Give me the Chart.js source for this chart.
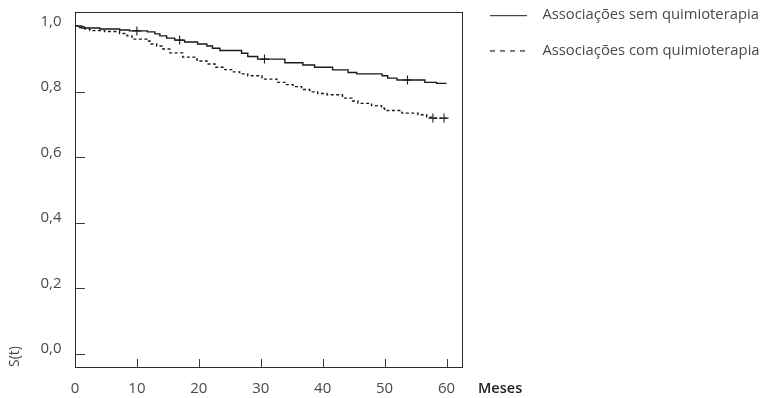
<!DOCTYPE html>
<html>
<head>
<meta charset="utf-8">
<script src="https://cdn.jsdelivr.net/npm/chart.js@4/dist/chart.umd.min.js"></script>
<style>
  html, body { margin: 0; padding: 0; background: #fff; }
  #grafico { display: block; }
</style>
</head>
<body>
<canvas id="grafico" width="764" height="398"></canvas>
<script>
// Estimativas de Kaplan-Meier: tempo (meses) em que a curva cai e S(t) após a queda
const semQtTempos = [0, 1.1, 4.0, 7.2, 8.8, 11.7, 12.9, 13.7, 14.8, 16.1, 17.7, 19.8, 21.3, 22.2, 23.4, 26.9, 27.9, 29.5, 33.9, 36.8, 38.7, 41.6, 44.1, 45.5, 49.6, 50.5, 52.0, 56.5, 58.4, 60];
const semQtSobrevida = [1.000, 0.994, 0.991, 0.988, 0.985, 0.982, 0.976, 0.970, 0.963, 0.957, 0.951, 0.945, 0.939, 0.932, 0.925, 0.917, 0.907, 0.899, 0.888, 0.881, 0.874, 0.866, 0.858, 0.854, 0.848, 0.841, 0.835, 0.828, 0.825, 0.825];
const semQtCensuras = [10.0, 16.9, 30.6, 53.7];

const comQtTempos = [0, 0.4, 1.6, 2.4, 4.8, 7.2, 8.4, 9.2, 11.6, 12.1, 13.2, 14.2, 15.3, 17.4, 19.7, 21.3, 22.6, 24.2, 25.3, 26.6, 27.9, 30.2, 32.6, 33.9, 35.2, 36.6, 37.9, 39.2, 40.7, 43.2, 44.7, 45.7, 47.9, 49.5, 50.0, 52.8, 55.4, 56.8, 57.8, 60];
const comQtSobrevida = [1.000, 0.995, 0.991, 0.986, 0.983, 0.977, 0.970, 0.960, 0.954, 0.945, 0.939, 0.930, 0.918, 0.905, 0.893, 0.884, 0.874, 0.867, 0.860, 0.854, 0.848, 0.838, 0.828, 0.821, 0.815, 0.806, 0.799, 0.794, 0.790, 0.780, 0.771, 0.764, 0.757, 0.749, 0.742, 0.734, 0.729, 0.722, 0.719, 0.719];
const comQtCensuras = [57.8, 59.6];

const rotulosGrupos = ['Associações sem quimioterapia', 'Associações com quimioterapia'];
const ticksMeses = [0, 10, 20, 30, 40, 50, 60];
const ticksSobrevida = [0, 0.2, 0.4, 0.6, 0.8, 1.0];

const FONTE = '"Open Sans", "DejaVu Sans", sans-serif';
const COR_LINHA = '#1a1a1a';
const COR_TEXTO = '#4a4a4a';

// S(t) da curva em degraus no instante t
function sobrevidaEm(tempos, valores, t) {
  let s = valores[0];
  for (let i = 0; i < tempos.length; i++) {
    if (tempos[i] <= t) s = valores[i];
  }
  return s;
}

const pontos = (tempos, valores) => tempos.map((t, i) => ({ x: t, y: valores[i] }));
const censuras = (ts, tempos, valores) => ts.map(t => ({ x: t, y: sobrevidaEm(tempos, valores, t) }));

// Amostra de linha para a legenda (traço contínuo ou tracejado)
function amostraLinha(tracejado) {
  const c = document.createElement('canvas');
  c.width = 45; c.height = 8;
  const g = c.getContext('2d');
  g.strokeStyle = COR_LINHA;
  g.lineWidth = 1.2;
  if (tracejado) g.setLineDash([5, 5]);
  g.beginPath();
  g.moveTo(0, 4.5);
  g.lineTo(37, 4.5);
  g.stroke();
  return c;
}
const amostras = { 0: amostraLinha(false), 1: amostraLinha(true) };

// Marcas de escala voltadas para dentro e rótulo "Meses"
const marcasInternas = {
  id: 'marcasInternas',
  afterDatasetsDraw(chart) {
    const { ctx, chartArea: a, scales: { x, y } } = chart;
    ctx.save();
    ctx.strokeStyle = '#3a3a3a';
    ctx.lineWidth = 1;
    ctx.beginPath();
    y.ticks.forEach(t => {
      const py = Math.round(y.getPixelForValue(t.value)) + 0.5;
      ctx.moveTo(a.left, py);
      ctx.lineTo(a.left + 10, py);
    });
    x.ticks.forEach(t => {
      if (t.value === 0) return;
      const px = Math.round(x.getPixelForValue(t.value)) + 0.5;
      ctx.moveTo(px, a.bottom);
      ctx.lineTo(px, a.bottom - 8);
    });
    ctx.stroke();
    ctx.fillStyle = '#222';
    ctx.font = '600 14.5px ' + FONTE;
    ctx.textAlign = 'left';
    ctx.textBaseline = 'middle';
    ctx.fillText('Meses', a.right + 16, a.bottom + 21.5);
    ctx.restore();
  }
};

const eixoFixo = (prop, valor) => (s) => { s[prop] = valor; };

new Chart(document.getElementById('grafico'), {
  type: 'line',
  data: {
    datasets: [
      {
        label: rotulosGrupos[0],
        data: pontos(semQtTempos, semQtSobrevida),
        stepped: 'before',
        borderColor: COR_LINHA,
        borderWidth: 1.4,
        pointRadius: 0,
        fill: false
      },
      {
        label: rotulosGrupos[1],
        data: pontos(comQtTempos, comQtSobrevida),
        stepped: 'before',
        borderColor: COR_LINHA,
        borderWidth: 1.4,
        borderDash: [3, 2.5],
        pointRadius: 0,
        fill: false
      },
      {
        type: 'scatter',
        label: 'censura-sem',
        data: censuras(semQtCensuras, semQtTempos, semQtSobrevida),
        pointStyle: 'cross',
        pointRadius: 4.5,
        pointBorderWidth: 1.1,
        pointBorderColor: COR_LINHA,
        showLine: false
      },
      {
        type: 'scatter',
        label: 'censura-com',
        data: censuras(comQtCensuras, comQtTempos, comQtSobrevida),
        pointStyle: 'cross',
        pointRadius: 4.5,
        pointBorderWidth: 1.1,
        pointBorderColor: COR_LINHA,
        showLine: false
      }
    ]
  },
  options: {
    responsive: false,
    animation: false,
    devicePixelRatio: 1,
    events: [],
    layout: { padding: { top: 0, right: 0, bottom: 0, left: 0 } },
    plugins: {
      tooltip: { enabled: false },
      legend: {
        position: 'right',
        align: 'start',
        maxWidth: 281.75,
        labels: {
          usePointStyle: true,
          pointStyleWidth: 45,
          padding: 7.75,
          color: COR_TEXTO,
          font: { family: FONTE, size: 14.8, lineHeight: '27.5px' },
          generateLabels: (chart) => chart.data.datasets
            .map((ds, i) => ({ ds, i }))
            .filter(({ i }) => amostras[i])
            .map(({ ds, i }) => ({
              text: [ds.label],
              datasetIndex: i,
              pointStyle: amostras[i],
              fontColor: COR_TEXTO,
              fillStyle: 'transparent',
              strokeStyle: 'transparent',
              lineWidth: 0,
              hidden: false
            }))
        }
      }
    },
    scales: {
      x: {
        type: 'linear',
        position: 'bottom',
        min: 0,
        max: 62.5,
        afterBuildTicks: (s) => { s.ticks = ticksMeses.map(v => ({ value: v })); },
        afterFit: eixoFixo('height', 31),
        grid: { display: false, drawTicks: true, tickLength: 13 },
        border: { display: true, color: '#2a2a2a', width: 1 },
        ticks: {
          padding: 0,
          color: COR_TEXTO,
          font: { family: FONTE, size: 15 },
          maxRotation: 0,
          autoSkip: false
        }
      },
      y: {
        type: 'linear',
        position: 'left',
        min: -0.0405,
        max: 1.0427,
        afterBuildTicks: (s) => { s.ticks = ticksSobrevida.map(v => ({ value: v })); },
        afterFit: eixoFixo('width', 75),
        grid: { display: false, drawTicks: true, tickLength: 13.5 },
        border: { display: true, color: '#2a2a2a', width: 1 },
        title: {
          display: true,
          text: 'S(t)',
          align: 'start',
          color: COR_TEXTO,
          font: { family: FONTE, size: 14 },
          padding: { top: 6.6, bottom: 0 }
        },
        ticks: {
          padding: 0,
          labelOffset: -4.5,
          color: COR_TEXTO,
          font: { family: FONTE, size: 15 },
          autoSkip: false,
          callback: (v) => v.toFixed(1).replace('.', ',')
        }
      },
      xTopo: {
        type: 'linear',
        axis: 'x',
        position: 'top',
        min: 0,
        max: 62.5,
        afterFit: eixoFixo('height', 12),
        grid: { display: false, drawTicks: false },
        border: { display: true, color: '#2a2a2a', width: 1 },
        ticks: { display: false, padding: 0 }
      },
      yDireita: {
        type: 'linear',
        axis: 'y',
        position: 'right',
        min: -0.0405,
        max: 1.0427,
        afterFit: eixoFixo('width', 20.25),
        grid: { display: false, drawTicks: false },
        border: { display: true, color: '#2a2a2a', width: 1 },
        ticks: { display: false, padding: 0 }
      }
    }
  },
  plugins: [marcasInternas]
});
</script>
</body>
</html>
